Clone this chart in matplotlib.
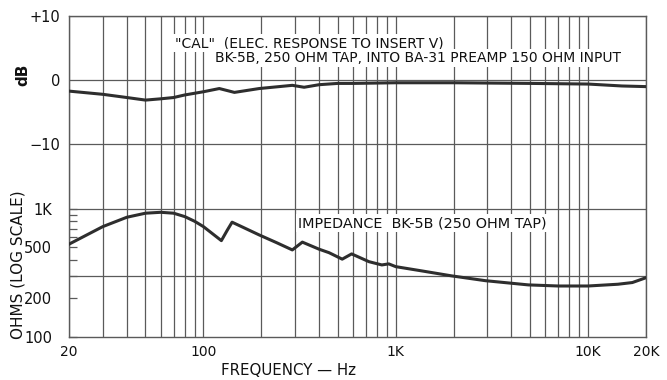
import matplotlib
matplotlib.use("Agg")
import matplotlib.pyplot as plt
from matplotlib.ticker import FixedLocator, NullFormatter

# ---- data ----
db_freq = [20, 30, 40, 50, 60, 70, 80, 100, 121, 145, 195, 290, 334, 400, 500,
           600, 1000, 2000, 5000, 10000, 15000, 20000]
db_vals = [-1.7, -2.2, -2.7, -3.1, -2.9, -2.7, -2.3, -1.8, -1.3, -1.9, -1.3, -0.8,
           -1.1, -0.7, -0.5, -0.5, -0.4, -0.4, -0.5, -0.6, -0.9, -1.0]

z_freq = [20, 30, 40, 50, 60, 70, 80, 90, 100, 124, 133, 141, 160, 195, 240, 290,
          327, 400, 450, 527, 590, 726, 847, 920, 1000, 1365, 1950, 2930, 4890,
          7000, 10000, 14300, 17000, 20000]
z_vals = [530, 727, 860, 925, 940, 925, 870, 800, 727, 565, 680, 787, 720, 626,
          545, 478, 550, 484, 455, 405, 445, 387, 365, 372, 354, 328, 300, 275,
          255, 250, 250, 258, 266, 290]

x_ticks = [20, 100, 1000, 10000, 20000]
x_labels = ["20", "100", "1K", "10K", "20K"]
db_ticks = [10, 0, -10]
db_labels = ["+10", "0", "\u221210"]
z_ticks = [100, 200, 500, 1000]
z_labels = ["100", "200", "500", "1K"]
z_minor = [300, 400, 600, 700, 800, 900]
z_grid = [300, 1000]

ink = "#2e2e2e"
gridc = "#5a5a5a"
plt.rcParams['font.family'] = ['DejaVu Sans']

fig = plt.figure(figsize=(6.67, 3.8), dpi=100)
ax = fig.add_axes([0.1034, 0.1132, 0.865, 0.8447])
ax.set_xscale('log')
ax.set_xlim(20, 20000)
ax.set_ylim(-40, 10)

ax.xaxis.set_major_locator(FixedLocator(x_ticks))
ax.set_xticklabels(x_labels)
ax.xaxis.set_minor_locator(FixedLocator(
    [m * 10 ** e for e in range(1, 5) for m in range(1, 10) if 20 <= m * 10 ** e <= 20000]))
ax.xaxis.set_minor_formatter(NullFormatter())
ax.grid(True, which='both', axis='x', color=gridc, lw=0.9)
ax.set_yticks(db_ticks)
ax.set_yticklabels(db_labels)
ax.grid(True, which='major', axis='y', color=gridc, lw=0.9)
ax.tick_params(axis='x', which='both', length=0, pad=6, labelsize=10, colors='#111111')
ax.tick_params(axis='y', which='both', length=0, pad=6, labelsize=10.5, colors='#111111')
for s in ax.spines.values():
    s.set_color(gridc)
    s.set_linewidth(1.0)

ax.plot(db_freq, db_vals, color=ink, lw=2.2, zorder=5)

ax2 = ax.twinx()
ax2.set_yscale('log')
ax2.set_ylim(100, 32000)
ax2.yaxis.tick_left()
ax2.yaxis.set_major_locator(FixedLocator(z_ticks))
ax2.set_yticklabels(z_labels)
ax2.yaxis.set_minor_locator(FixedLocator(z_minor))
ax2.yaxis.set_minor_formatter(NullFormatter())
ax2.tick_params(axis='y', which='major', direction='in', length=6, width=0.9,
                color=gridc, pad=12, labelsize=10.5, labelcolor='#111111')
ax2.tick_params(axis='y', which='minor', direction='in', length=6, width=0.9, color=gridc)
for v in z_grid:
    ax2.axhline(v, color=gridc, lw=0.9, zorder=1)
for s in ax2.spines.values():
    s.set_visible(False)
ax2.plot(z_freq, z_vals, color=ink, lw=2.2, zorder=5)

tk = dict(color='#111111', va='center', ha='left',
          bbox=dict(facecolor='white', edgecolor='none', pad=1.5), zorder=6)
fig.text(0.262, 0.886, "\"CAL\"  (ELEC. RESPONSE TO INSERT V)", fontsize=10, **tk)
fig.text(0.322, 0.848, "BK-5B, 250 OHM TAP, INTO BA-31 PREAMP 150 OHM INPUT", fontsize=10, **tk)
fig.text(0.447, 0.413, "IMPEDANCE  BK-5B (250 OHM TAP)", fontsize=10.4, **tk)

fig.text(0.034, 0.803, "dB", rotation=90, fontsize=11, fontweight='bold',
         ha='center', va='center', color='#111111')
fig.text(0.027, 0.303, "OHMS (LOG SCALE)", rotation=90, fontsize=11,
         ha='center', va='center', color='#111111')
fig.text(0.4325, 0.026, "FREQUENCY \u2014 Hz", fontsize=10.8,
         ha='center', va='center', color='#111111')

fig.savefig("out.png", dpi=100, facecolor='white')
